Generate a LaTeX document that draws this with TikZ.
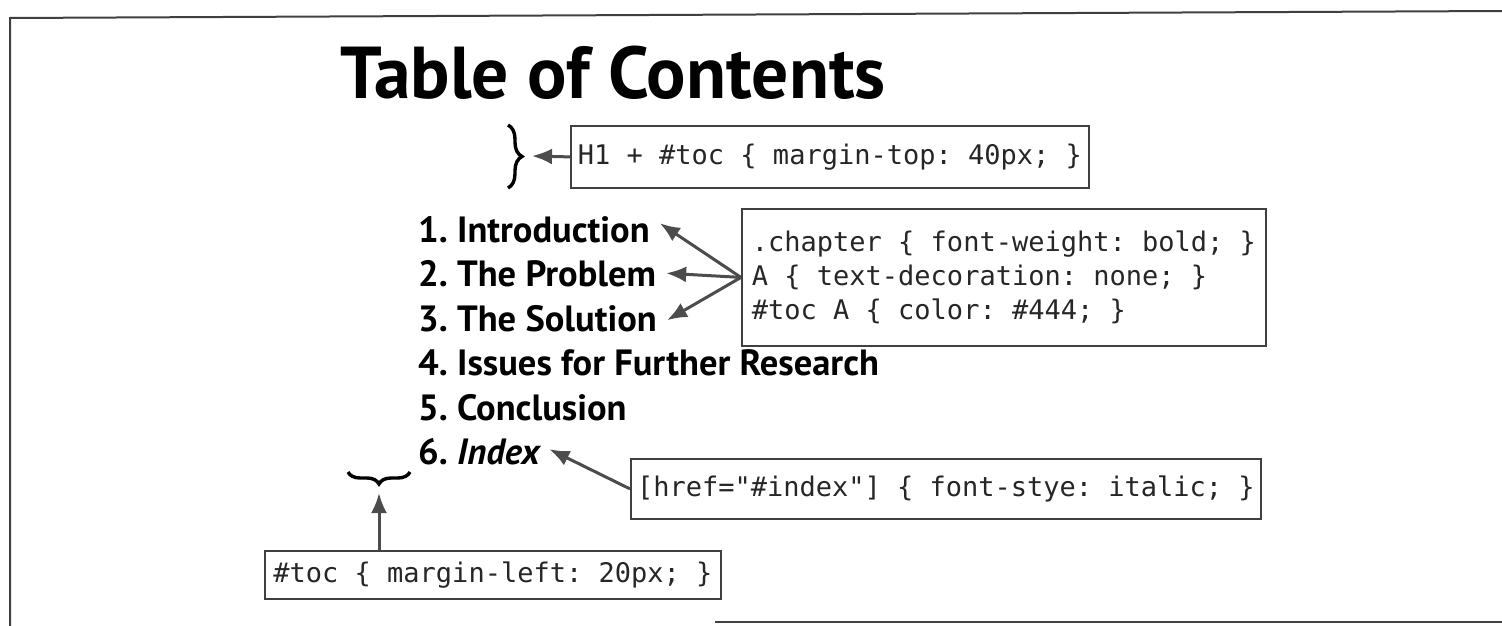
\documentclass[tikz,border=0pt]{standalone}
\usepackage{fontspec}
\setmainfont{PT Sans}
\newfontfamily\codefont[WordSpace={1,0,0}]{DejaVu Sans Mono}
\usetikzlibrary{arrows.meta,decorations.pathreplacing}
\frenchspacing
\begin{document}
\begin{tikzpicture}[x=1pt,y=-1pt,
  frame/.style={line width=2pt,draw=black!75},
  codebox/.style={draw=black!75,line width=1.8pt,inner sep=0pt,font=\codefont\frenchspacing\fontsize{27}{34}\selectfont,text=black!85},
  tocitem/.style={anchor=base west,inner sep=0pt,font=\bfseries\fontsize{36.5}{40}\selectfont},
  pointer/.style={draw=black!70,line width=3pt,-{Latex[length=20pt,width=16pt]}},
  bracestyle/.style={line width=3.4pt,decorate,decoration={brace,amplitude=14pt,aspect=0.5}}]
\useasboundingbox (0,0) rectangle (1502,626);
% frame
\draw[frame] (10,626) -- (10,18) -- (1502,11);
\draw[frame] (715,622) -- (1502,622);
% title
\node[anchor=base west,inner sep=0pt,font=\bfseries\fontsize{73.5}{80}\selectfont] (title) at (340,98) {Table of Contents};
% margin-top brace and box
\coordinate (bt) at (508,125);
\coordinate (bb) at (508,188);
\draw[bracestyle] (bt) -- (bb);
\coordinate (btip) at (532,156);
\node[codebox,minimum width=518pt,minimum height=62pt,anchor=north west] (mtop) at (570,125) {H1 + \#toc \{ margin-top: 40px; \}};
\draw[pointer] (mtop.west) -- (btip);
% toc items
\node[tocitem] (i1) at (418,242) {1. Introduction};
\node[tocitem] (i2) at (418,286) {2. The Problem};
\node[tocitem] (i3) at (418,331) {3. The Solution};
\node[tocitem] (i4) at (418,375) {4. Issues for Further Research};
\node[tocitem] (i5) at (418,420) {5. Conclusion};
\node[tocitem] (i6) at (418,464) {6. \textit{Index}};
% chapter box
\node[codebox,minimum width=524pt,minimum height=137pt,anchor=north west,align=left,inner xsep=7pt] (chap) at (741,208)
 {.chapter \{ font-weight: bold; \}\\A \{ text-decoration: none; \}\\\#toc A \{ color: \#444; \}};
\draw[pointer] (chap.west) -- ([xshift=10pt,yshift=6pt]i1.east);
\draw[pointer] (chap.west) -- ([xshift=10pt,yshift=0pt]i2.east);
\draw[pointer] (chap.west) -- ([xshift=10pt,yshift=-2pt]i3.east);
% index box
\node[codebox,minimum width=630pt,minimum height=60pt,anchor=north west] (idx) at (630,458) {[href="\#index"] \{ font-stye: italic; \}};
\draw[pointer] (idx.west) -- ([xshift=8pt,yshift=2pt]i6.east);
% margin-left underbrace and box
\coordinate (ul) at (348,472);
\coordinate (ur) at (410,472);
\draw[bracestyle,decoration={brace,amplitude=12pt,mirror}] (ul) -- (ur);
\coordinate (utip) at (379,493);
\node[codebox,minimum width=456pt,minimum height=48pt,anchor=north west] (mleft) at (264,550) {\#toc \{ margin-left: 20px; \}};
\draw[pointer] (mleft.north -| utip) -- (utip);
\end{tikzpicture}
\end{document}
